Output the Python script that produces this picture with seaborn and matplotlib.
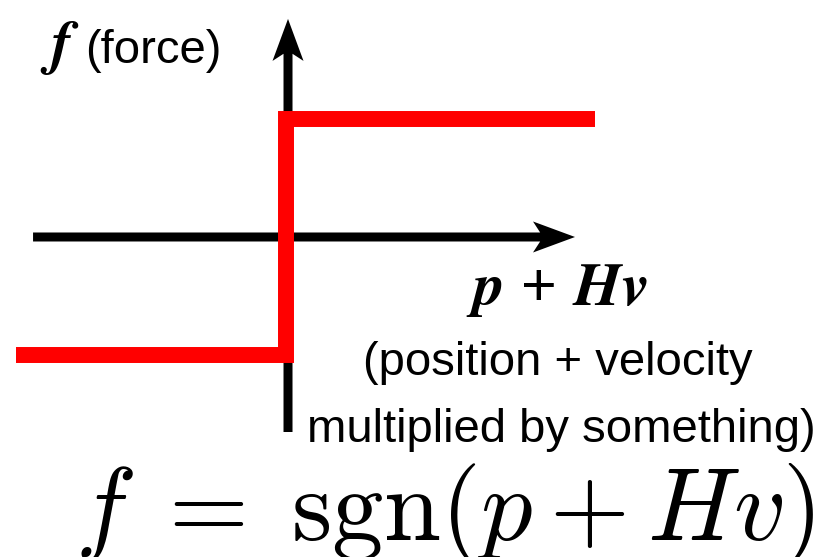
"""
Sign-function force diagram: f = sgn(p + Hv), drawn as a red step on plain arrow axes.
"""

import matplotlib
matplotlib.use("Agg")
import matplotlib.pyplot as plt
import seaborn as sns
from matplotlib import font_manager

# Step curve (diagram units, origin where the two axes cross)
step_x = [-2.30, -0.02, -0.02, 2.60]
step_y = [-1.0, -1.0, 1.0, 1.0]

# Axis arrows: start and end of each
x_axis_span = [-2.156, 2.427]
y_axis_span = [-1.649, 1.844]

# Labels
y_symbol = r"$\mathbfit{f}$"
y_word = "(force)"
x_label = r"$\mathbfit{p}$ + $\mathbfit{Hv}$"
x_note = ["(position + velocity", "multiplied by something)"]
formula = r"$f\;=\;\mathrm{sgn}(p + Hv)$"

sns.set_style("white")

names = {f.name for f in font_manager.fontManager.ttflist}
if "Liberation Sans Narrow" in names:
    sans, sans_size = "Liberation Sans Narrow", 40
else:
    sans, sans_size = "Liberation Sans", 34
plt.rcParams["font.family"] = [sans, "DejaVu Sans"]
plt.rcParams["text.color"] = "black"

fig = plt.figure(figsize=(8.25, 5.57), dpi=100)
ax = fig.add_axes([0, 0, 1, 1])
ax.set_xlim(-2.4355, 4.541)
ax.set_ylim(-2.706, 2.004)
ax.axis("off")

# black axes with arrow heads
px = 1 / 118.25
ax.arrow(x_axis_span[0], 0, x_axis_span[1] - x_axis_span[0], 0,
         width=9 * px, head_width=31 * px, head_length=42 * px, overhang=0.17,
         length_includes_head=True, color="black", lw=0, zorder=1)
ax.arrow(0, y_axis_span[0], 0, y_axis_span[1] - y_axis_span[0],
         width=9 * px, head_width=31 * px, head_length=42 * px, overhang=0.17,
         length_includes_head=True, color="black", lw=0, zorder=1)

# the red step
sns.lineplot(x=step_x, y=step_y, sort=False, estimator=None, color="#ff0000",
             lw=11.5, ax=ax, zorder=3)
for line in ax.lines:
    line.set_solid_joinstyle("miter")
    line.set_solid_capstyle("butt")

ax.text(-2.097, 1.471, y_symbol, fontsize=44, ha="left", va="baseline",
        math_fontfamily="stix")
ax.text(-1.712, 1.471, y_word, fontsize=sans_size, ha="left", va="baseline")
ax.text(2.275, -0.575, x_label, fontsize=44, ha="center", va="baseline",
        math_fontfamily="stix")
ax.text(2.283, -1.167, x_note[0], fontsize=sans_size, ha="center", va="baseline")
ax.text(2.309, -1.734, x_note[1], fontsize=sans_size, ha="center", va="baseline")
ax.text(1.328, -2.56, formula, fontsize=74, ha="center", va="baseline",
        math_fontfamily="cm")

plt.savefig("out.png", dpi=100)
